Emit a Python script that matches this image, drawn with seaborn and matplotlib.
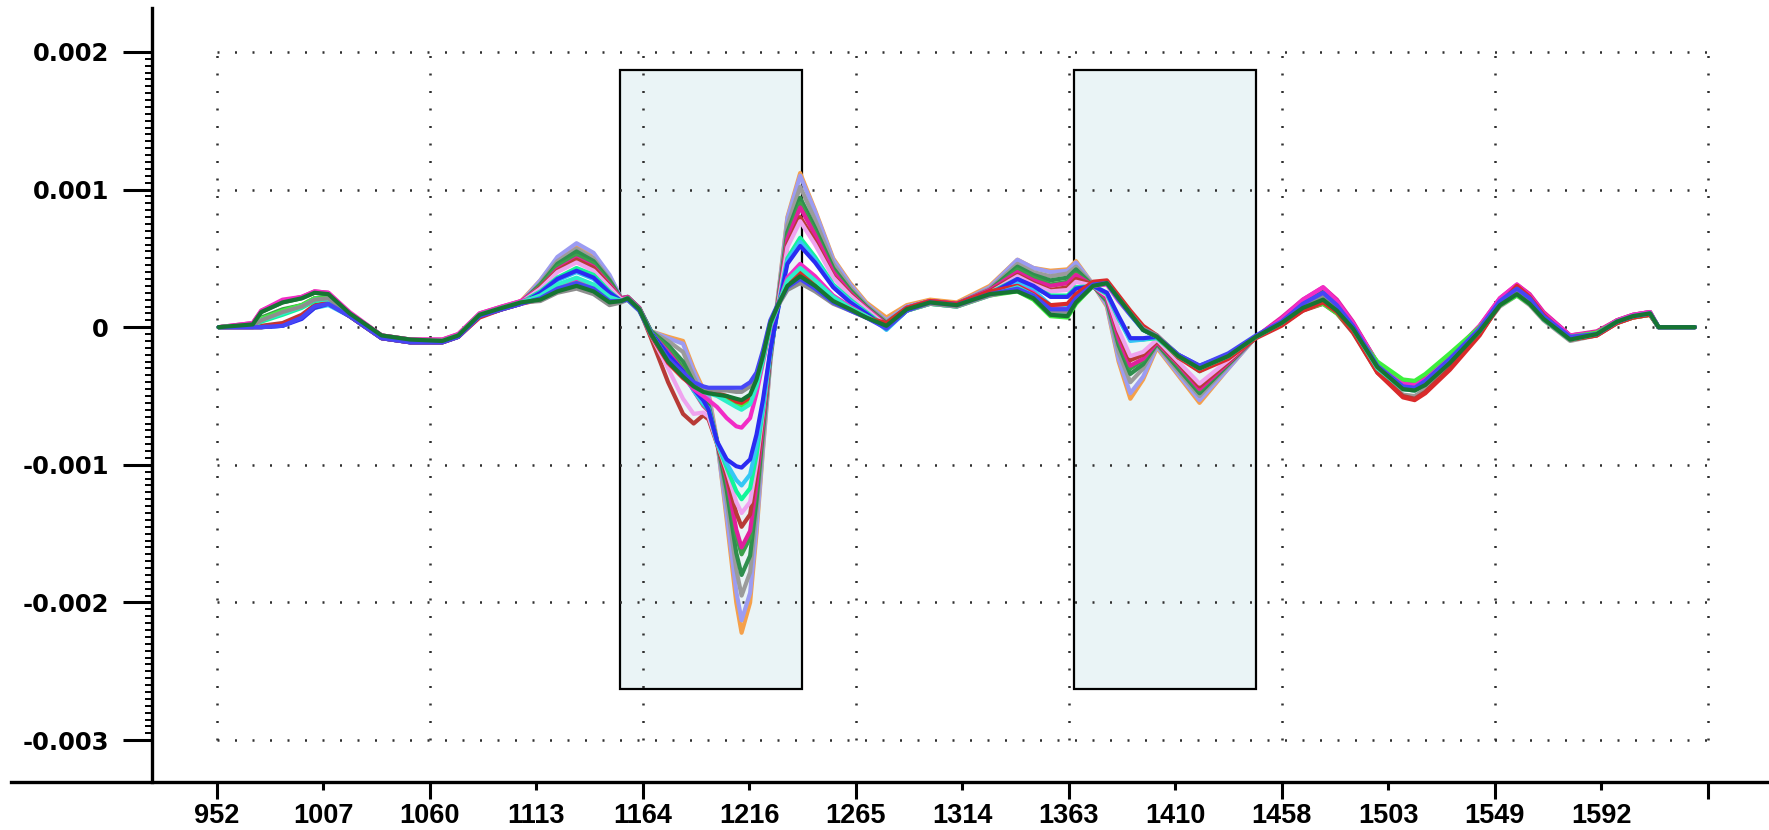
import numpy as np
import pandas as pd
import matplotlib
matplotlib.use("Agg")
import matplotlib.pyplot as plt
from matplotlib.patches import Rectangle
from matplotlib.ticker import FixedLocator, FixedFormatter
import seaborn as sns

# ---------------- data ----------------
# band position on the axis (1 unit = one labelled wavelength step)
BAND = [0.02, 0.34, 0.42, 0.62, 0.80, 0.92, 1.05, 1.25, 1.55, 1.82, 2.12, 2.27, 2.47, 2.68, 2.86,
        3.04, 3.20, 3.38, 3.54, 3.69, 3.80, 3.86, 3.97,
        4.08, 4.24, 4.38, 4.48, 4.57, 4.62, 4.70, 4.79, 4.88, 4.93, 5.01, 5.07, 5.13, 5.20, 5.26,
        5.36, 5.48, 5.62, 5.79, 5.95, 6.10,
        6.29, 6.48, 6.70, 6.95, 7.26,
        7.52, 7.67, 7.83, 7.99, 8.07, 8.23, 8.36,
        8.47, 8.58, 8.70, 8.83, 9.03, 9.23, 9.50, 9.76,
        10.00, 10.20, 10.39, 10.52, 10.67, 10.90, 11.14, 11.25, 11.35, 11.58, 11.86, 12.05, 12.21,
        12.33, 12.46, 12.71, 12.96, 13.15, 13.30, 13.46, 13.54, 13.88]

WAVELENGTH_LABELS = ["952", "1007", "1060", "1113", "1164", "1216", "1265", "1314",
                     "1363", "1410", "1458", "1503", "1549", "1592", ""]
Y_TICKS = [0.002, 0.001, 0.0, -0.001, -0.002, -0.003]
Y_LABELS = ["0.002", "0.001", "0", "-0.001", "-0.002", "-0.003"]

UNIT = 1e-4  # spectra below are written in units of 1e-4

S01 = [0, 0.1, 0.6, 1.2, 1.6, 2.1, 2.1, 0.9, -0.7, -1.0, -1.0, -0.6, 0.9, 1.4, 1.9,
       3.4, 5.0, 6.0, 5.3, 3.7, 2.1, 2.2, 1.4,
       -0.3, -0.7, -1.0, -3.0, -4.5, -4.8, -8.2, -14.0, -20.0, -22.2, -20.0, -15.0, -9.0, -2.5, 1.5,
       8.0, 11.2, 8.5, 5.0, 3.2, 1.8,
       0.7, 1.6, 2.0, 1.8, 3.0,
       4.9, 4.3, 4.1, 4.2, 4.8, 3.1, 1.5,
       -2.5, -5.2, -3.8, -1.5, -3.5, -5.5, -3.0, -0.7,
       0.4, 1.6, 2.3, 1.5, 0.1, -2.8, -4.3, -4.4, -4.0, -2.3, -0.1, 1.8, 2.7, 2.0, 0.8, -0.8, -0.4, 0.5, 0.8, 1.0, 0.0, 0.0]
S02 = [0, 0.1, 0.5, 1.1, 1.5, 2.0, 2.0, 0.8, -0.8, -1.1, -1.1, -0.7, 0.8, 1.4, 1.8,
       3.4, 5.1, 6.1, 5.4, 3.8, 2.1, 2.2, 1.4,
       -0.3, -0.8, -1.2, -3.2, -4.7, -5.0, -8.3, -13.6, -19.2, -21.3, -19.3, -14.6, -8.8, -2.5, 1.4,
       7.9, 11.0, 8.4, 4.9, 3.1, 1.7,
       0.5, 1.5, 1.9, 1.7, 2.9,
       4.9, 4.3, 4.0, 4.1, 4.7, 3.1, 1.6,
       -2.3, -4.8, -3.6, -1.4, -3.4, -5.3, -3.0, -0.7,
       0.5, 1.7, 2.4, 1.6, 0.1, -2.8, -4.4, -4.5, -4.0, -2.4, -0.2, 1.8, 2.8, 2.1, 0.8, -0.7, -0.5, 0.4, 0.8, 1.0, 0.0, 0.0]
S03 = [0, 0.0, 0.0, 0.2, 0.8, 1.5, 1.7, 0.8, -0.8, -1.1, -1.1, -0.7, 0.8, 1.3, 1.7,
       3.2, 4.8, 5.7, 5.0, 3.5, 2.0, 2.2, 1.3,
       -0.3, -1.0, -1.8, -3.6, -5.0, -5.4, -8.3, -12.6, -17.6, -19.5, -17.8, -13.5, -8.3, -2.3, 1.3,
       7.4, 10.2, 7.8, 4.6, 2.9, 1.6,
       0.4, 1.4, 1.9, 1.7, 2.8,
       4.6, 4.0, 3.7, 3.9, 4.4, 3.1, 1.8,
       -1.8, -4.0, -3.0, -1.3, -3.2, -5.0, -2.8, -0.7,
       0.2, 1.3, 1.8, 1.1, -0.3, -3.2, -4.9, -5.0, -4.5, -2.8, -0.4, 1.5, 2.3, 1.6, 0.5, -1.0, -0.6, 0.3, 0.7, 0.9, 0.0, 0.0]
S04 = [0, 0.2, 1.1, 1.8, 2.1, 2.5, 2.4, 1.0, -0.6, -0.9, -1.0, -0.6, 0.9, 1.4, 1.8,
       3.1, 4.6, 5.5, 4.8, 3.4, 2.1, 2.2, 1.4,
       -0.3, -1.3, -2.5, -4.0, -5.3, -5.7, -8.3, -11.8, -16.4, -18.0, -16.6, -12.6, -7.6, -2.1, 1.2,
       6.9, 9.4, 7.2, 4.3, 2.7, 1.5,
       0.3, 1.4, 1.9, 1.7, 2.7,
       4.4, 3.8, 3.4, 3.6, 4.2, 3.0, 1.9,
       -1.3, -3.4, -2.7, -1.2, -3.0, -4.8, -2.7, -0.7,
       0.6, 1.9, 2.7, 1.8, 0.3, -2.6, -4.0, -4.1, -3.6, -2.1, 0.0, 2.0, 3.0, 2.3, 1.0, -0.6, -0.4, 0.5, 0.9, 1.1, 0.0, 0.0]
S05 = [0, 0.1, 0.7, 1.3, 1.6, 2.1, 2.2, 0.9, -0.7, -1.0, -1.0, -0.6, 0.9, 1.4, 1.8,
       3.0, 4.4, 5.2, 4.6, 3.2, 2.0, 2.1, 1.3,
       -0.3, -1.5, -3.0, -4.4, -5.6, -6.0, -8.3, -11.2, -15.1, -16.5, -15.3, -11.8, -7.2, -2.0, 1.1,
       6.6, 9.0, 6.9, 4.1, 2.6, 1.4,
       0.2, 1.3, 1.8, 1.6, 2.6,
       4.2, 3.6, 3.1, 3.3, 3.9, 3.0, 2.0,
       -1.0, -3.0, -2.4, -1.1, -2.8, -4.6, -2.6, -0.7,
       0.4, 1.5, 2.2, 1.3, -0.1, -3.0, -4.5, -4.6, -4.1, -2.5, -0.3, 1.7, 2.5, 1.8, 0.6, -0.9, -0.5, 0.4, 0.8, 1.0, 0.0, 0.0]
S06 = [0, 0.3, 1.2, 1.9, 2.2, 2.6, 2.5, 1.0, -0.6, -0.9, -0.9, -0.5, 1.0, 1.5, 1.9,
       2.9, 4.2, 5.0, 4.4, 3.1, 2.1, 2.2, 1.4,
       -0.4, -1.8, -3.2, -4.6, -5.7, -6.1, -8.4, -11.0, -14.7, -16.0, -14.8, -11.4, -7.0, -1.9, 1.1,
       6.4, 8.7, 6.7, 4.0, 2.5, 1.4,
       0.2, 1.4, 1.9, 1.7, 2.7,
       4.0, 3.4, 3.0, 3.2, 3.8, 3.0, 2.1,
       -0.8, -2.8, -2.3, -1.1, -2.7, -4.5, -2.6, -0.7,
       0.7, 2.0, 2.9, 2.0, 0.4, -2.6, -4.1, -4.2, -3.7, -2.1, 0.1, 2.1, 3.1, 2.4, 1.1, -0.6, -0.3, 0.5, 0.9, 1.1, 0.0, 0.0]
S07 = [0, 0.0, 0.1, 0.3, 0.9, 1.6, 1.8, 0.8, -0.8, -1.1, -1.1, -0.7, 0.8, 1.3, 1.7,
       2.9, 4.1, 4.9, 4.3, 3.0, 2.0, 2.1, 1.3,
       -0.8, -4.0, -6.3, -7.0, -6.4, -6.7, -8.5, -10.8, -13.5, -14.5, -13.6, -10.6, -6.5, -1.8, 1.0,
       6.0, 8.0, 6.2, 3.7, 2.4, 1.3,
       0.1, 1.3, 1.8, 1.6, 2.6,
       3.8, 3.2, 2.7, 2.9, 3.5, 3.1, 2.3,
       -0.4, -2.4, -2.0, -1.0, -2.6, -4.3, -2.5, -0.7,
       0.2, 1.2, 1.7, 1.0, -0.4, -3.3, -5.0, -5.2, -4.7, -3.0, -0.5, 1.6, 2.9, 2.1, 0.8, -0.9, -0.6, 0.3, 0.7, 0.9, 0.0, 0.0]
S08 = [0, 0.1, 0.6, 1.1, 1.5, 2.0, 2.0, 0.9, -0.7, -1.0, -1.0, -0.6, 0.9, 1.4, 1.8,
       2.8, 4.0, 4.7, 4.1, 2.9, 2.0, 2.1, 1.3,
       -0.6, -3.0, -5.2, -6.3, -6.2, -6.5, -8.4, -10.4, -12.7, -13.5, -12.7, -9.9, -6.2, -1.7, 1.0,
       5.8, 7.7, 6.0, 3.6, 2.3, 1.3,
       0.1, 1.3, 1.8, 1.6, 2.5,
       3.7, 3.1, 2.6, 2.7, 3.3, 3.0, 2.3,
       -0.2, -2.1, -1.8, -0.9, -2.5, -4.1, -2.4, -0.7,
       0.4, 1.6, 2.4, 1.5, 0.0, -2.9, -4.5, -4.6, -4.1, -2.4, -0.2, 1.8, 2.7, 2.0, 0.7, -0.8, -0.5, 0.4, 0.8, 1.0, 0.0, 0.0]
S09 = [0, 0.1, 0.4, 0.9, 1.4, 1.9, 2.0, 0.9, -0.7, -1.0, -1.0, -0.6, 0.9, 1.4, 1.8,
       2.6, 3.6, 4.3, 3.8, 2.6, 1.9, 2.1, 1.3,
       -0.4, -2.0, -3.4, -4.6, -5.6, -6.0, -8.4, -10.2, -11.9, -12.5, -11.7, -9.3, -6.0, -1.8, 0.9,
       5.0, 6.5, 5.1, 3.1, 2.0, 1.1,
       0.0, 1.2, 1.8, 1.6, 2.5,
       3.5, 2.9, 2.3, 2.3, 2.9, 3.0, 2.4,
       0.6, -0.9, -0.9, -0.8, -2.1, -3.2, -2.1, -0.7,
       0.3, 1.5, 2.2, 1.3, -0.1, -2.9, -4.3, -4.4, -4.0, -2.4, -0.2, 1.7, 2.5, 1.8, 0.6, -0.8, -0.5, 0.4, 0.8, 1.0, 0.0, 0.0]
S10 = [0, 0.0, 0.0, 0.1, 0.7, 1.4, 1.6, 0.8, -0.8, -1.1, -1.1, -0.7, 0.8, 1.3, 1.7,
       2.5, 3.4, 4.0, 3.5, 2.4, 1.9, 2.0, 1.2,
       -0.4, -2.1, -3.3, -4.6, -5.5, -5.9, -8.4, -9.9, -11.1, -11.5, -10.7, -8.6, -5.7, -1.8, 0.9,
       4.8, 6.2, 4.9, 3.0, 1.9, 1.0,
       -0.2, 1.2, 1.7, 1.5, 2.4,
       3.3, 2.7, 1.6, 1.5, 2.4, 3.0, 2.5,
       0.7, -1.0, -0.9, -0.7, -2.0, -3.1, -2.0, -0.7,
       0.4, 1.6, 2.3, 1.4, 0.0, -2.9, -4.4, -4.5, -4.0, -2.4, -0.2, 1.8, 2.6, 1.9, 0.7, -0.8, -0.5, 0.4, 0.8, 1.0, 0.0, 0.0]
S11 = [0, 0.0, 0.0, 0.1, 0.6, 1.4, 1.7, 0.8, -0.8, -1.1, -1.1, -0.7, 0.8, 1.3, 1.7,
       2.5, 3.5, 4.1, 3.6, 2.5, 1.9, 2.1, 1.3,
       -0.4, -2.0, -3.2, -4.5, -5.3, -6.0, -8.3, -9.6, -10.1, -10.2, -9.6, -7.8, -5.3, -1.7, 0.8,
       4.6, 5.9, 4.7, 2.9, 1.8, 1.0,
       -0.1, 1.2, 1.8, 1.6, 2.4,
       3.5, 3.0, 2.2, 2.2, 2.8, 3.0, 2.5,
       0.8, -0.8, -0.8, -0.7, -2.0, -2.8, -2.0, -0.7,
       0.4, 1.7, 2.4, 1.6, 0.1, -2.8, -4.3, -4.4, -3.9, -2.3, -0.1, 1.9, 2.8, 2.1, 0.8, -0.7, -0.5, 0.4, 0.8, 1.0, 0.0, 0.0]
S12 = [0, 0.3, 1.2, 2.0, 2.2, 2.6, 2.5, 1.1, -0.6, -0.9, -0.9, -0.5, 1.0, 1.5, 1.9,
       2.2, 2.9, 3.4, 3.0, 2.1, 1.9, 2.1, 1.3,
       -0.5, -2.5, -3.6, -4.5, -5.0, -5.3, -5.8, -6.6, -7.2, -7.3, -6.6, -4.8, -2.6, 0.0, 1.3,
       3.6, 4.6, 3.7, 2.3, 1.5, 0.8,
       0.0, 1.4, 1.9, 1.7, 2.5,
       3.0, 2.5, 1.4, 1.3, 2.1, 3.0, 3.1,
       1.9, 0.9, -0.1, -0.6, -2.1, -3.1, -2.1, -0.7,
       0.6, 2.0, 2.9, 1.9, 0.3, -2.6, -4.1, -4.2, -3.8, -2.2, 0.1, 2.1, 3.1, 2.3, 1.0, -0.6, -0.4, 0.5, 0.9, 1.1, 0.0, 0.0]
S13 = [0, 0.1, 0.6, 1.2, 1.6, 2.1, 2.1, 0.9, -0.7, -1.0, -1.0, -0.6, 0.9, 1.4, 1.8,
       2.1, 2.8, 3.2, 2.8, 1.9, 1.9, 2.0, 1.2,
       -0.5, -2.4, -3.5, -4.2, -4.5, -4.6, -4.8, -5.2, -5.6, -5.8, -5.4, -4.2, -2.3, 0.2, 1.4,
       3.3, 4.1, 3.3, 2.1, 1.4, 0.8,
       0.0, 1.2, 1.7, 1.5, 2.3,
       2.6, 2.0, 0.8, 0.7, 1.7, 3.0, 3.2,
       2.1, 1.0, -0.2, -0.7, -2.2, -3.0, -2.0, -0.7,
       0.3, 1.3, 1.7, 1.0, -0.2, -2.5, -3.8, -3.9, -3.4, -1.9, 0.0, 1.6, 2.3, 1.7, 0.6, -0.7, -0.4, 0.4, 0.7, 0.9, 0.0, 0.0]
S14 = [0, 0.0, 0.0, 0.2, 0.8, 1.5, 1.8, 0.8, -0.8, -1.1, -1.1, -0.7, 0.7, 1.3, 1.7,
       2.0, 2.6, 3.0, 2.6, 1.8, 1.9, 2.1, 1.3,
       -0.6, -2.6, -3.7, -4.3, -4.6, -4.7, -4.8, -5.0, -5.4, -5.5, -5.1, -3.9, -2.2, 0.3, 1.4,
       3.2, 4.0, 3.2, 2.0, 1.3, 0.7,
       0.3, 1.4, 1.9, 1.7, 2.6,
       3.0, 2.4, 1.6, 1.7, 2.4, 3.3, 3.4,
       2.3, 1.2, 0.1, -0.6, -2.2, -3.2, -2.3, -0.8,
       0.1, 1.2, 1.8, 1.1, -0.3, -3.3, -5.1, -5.3, -4.8, -3.1, -0.6, 1.7, 3.0, 2.2, 0.9, -0.9, -0.6, 0.3, 0.7, 0.9, 0.0, 0.0]
S15 = [0, 0.1, 0.5, 1.0, 1.5, 2.0, 2.0, 0.9, -0.7, -1.0, -1.0, -0.6, 0.9, 1.4, 1.8,
       2.3, 3.1, 3.6, 3.1, 2.2, 1.9, 2.1, 1.3,
       -0.5, -2.4, -3.5, -4.3, -4.7, -4.8, -5.0, -5.4, -5.8, -6.0, -5.6, -4.3, -2.4, 0.1, 1.3,
       3.4, 4.3, 3.4, 2.2, 1.4, 0.8,
       -0.1, 1.2, 1.7, 1.5, 2.3,
       2.9, 2.3, 1.0, 0.9, 1.9, 3.0, 3.2,
       2.0, 0.9, -0.2, -0.7, -2.1, -3.0, -2.1, -0.7,
       0.3, 1.5, 2.2, 1.3, -0.1, -3.0, -4.5, -4.6, -4.1, -2.5, -0.3, 1.7, 2.5, 1.8, 0.6, -0.9, -0.5, 0.4, 0.8, 1.0, 0.0, 0.0]
S16 = [0, 0.1, 0.5, 1.1, 1.5, 2.0, 2.1, 0.9, -0.7, -1.0, -1.0, -0.6, 0.9, 1.4, 1.8,
       1.9, 2.5, 2.8, 2.4, 1.6, 1.8, 2.0, 1.2,
       -0.5, -2.4, -3.4, -4.1, -4.4, -4.5, -4.6, -4.6, -4.7, -4.7, -4.3, -3.5, -1.9, 0.4, 1.4,
       2.7, 3.2, 2.6, 1.7, 1.2, 0.7,
       0.0, 1.2, 1.7, 1.5, 2.3,
       2.7, 2.2, 1.2, 1.1, 1.9, 3.0, 3.2,
       2.1, 1.0, -0.1, -0.6, -2.0, -3.0, -2.0, -0.7,
       0.4, 1.6, 2.3, 1.4, 0.0, -2.9, -4.4, -4.5, -4.0, -2.4, -0.2, 1.8, 2.6, 1.9, 0.7, -0.8, -0.5, 0.4, 0.8, 1.0, 0.0, 0.0]
S17 = [0, 0.0, 0.0, 0.1, 0.7, 1.5, 1.7, 0.8, -0.8, -1.1, -1.1, -0.7, 0.8, 1.3, 1.7,
       2.1, 2.8, 3.2, 2.8, 1.9, 1.9, 2.0, 1.2,
       -0.5, -2.3, -3.3, -4.0, -4.3, -4.4, -4.4, -4.4, -4.4, -4.4, -4.0, -3.3, -1.7, 0.5, 1.5,
       2.9, 3.5, 2.8, 1.8, 1.2, 0.7,
       -0.1, 1.2, 1.8, 1.6, 2.4,
       2.8, 2.3, 1.3, 1.3, 2.1, 3.1, 3.2,
       2.0, 0.9, -0.2, -0.7, -2.0, -2.8, -1.9, -0.6,
       0.4, 1.7, 2.5, 1.6, 0.1, -2.8, -4.3, -4.4, -3.9, -2.3, -0.1, 1.9, 2.8, 2.1, 0.8, -0.7, -0.5, 0.4, 0.8, 1.0, 0.0, 0.0]
S18 = [0, 0.2, 1.1, 1.8, 2.1, 2.5, 2.4, 1.0, -0.6, -0.9, -1.0, -0.6, 0.9, 1.4, 1.8,
       2.0, 2.6, 3.0, 2.6, 1.8, 1.9, 2.1, 1.3,
       -0.5, -2.5, -3.6, -4.3, -4.7, -4.8, -4.9, -5.0, -5.2, -5.3, -4.9, -3.8, -2.1, 0.3, 1.4,
       3.0, 3.7, 3.0, 1.9, 1.3, 0.7,
       0.1, 1.3, 1.8, 1.6, 2.4,
       2.6, 2.1, 0.9, 0.8, 1.8, 3.0, 3.2,
       2.1, 1.0, -0.2, -0.7, -2.1, -3.0, -2.1, -0.7,
       0.3, 1.4, 2.0, 1.2, -0.1, -2.9, -4.5, -4.6, -4.2, -2.6, -0.3, 1.6, 2.4, 1.7, 0.6, -0.9, -0.5, 0.4, 0.8, 1.0, 0.0, 0.0]

SERIES = [S01, S02, S03, S04, S05, S06, S07, S08, S09, S10, S11, S12, S13, S14, S15, S16, S17, S18]
SERIES_NAMES = ["s%02d" % (i + 1) for i in range(len(SERIES))]
SERIES_COLORS = ["#F5A04A", "#9C9CF2", "#9B9B9B", "#2F8F4E", "#3BA04B", "#E0209C",
                 "#B83A36", "#EFA3EF", "#12F59A", "#35C7F5", "#2B2BF2", "#F22CC6",
                 "#3EF03E", "#DA2A2A", "#2EF0C8", "#8E8E8E", "#4646F6", "#167532"]

# highlighted band windows (axis units) and their vertical extent
RECT_X0 = [3.79, 8.05]
RECT_X1 = [5.50, 9.76]
RECT_Y0 = -0.00263
RECT_Y1 = 0.00187

# ---------------- figure ----------------
plt.rcParams["axes.unicode_minus"] = False
W, H = 1769, 830
fig = plt.figure(figsize=(W / 100, H / 100), dpi=100)
ax = fig.add_axes([11 / W, 1 - 782 / H, (W - 11) / W, (782 - 8.5) / H])
ax.set_facecolor("white")

frames = []
for name, vals in zip(SERIES_NAMES, SERIES):
    frames.append(pd.DataFrame({"band": BAND, "value": np.array(vals) * UNIT, "series": name}))
df = pd.concat(frames, ignore_index=True)

# shaded windows
for x0, x1 in zip(RECT_X0, RECT_X1):
    ax.add_patch(Rectangle((x0, RECT_Y0), x1 - x0, RECT_Y1 - RECT_Y0,
                           facecolor="#EAF4F6", edgecolor="black", linewidth=1.6, zorder=1))

# dotted grid limited to the labelled range
major_x = list(range(0, len(WAVELENGTH_LABELS), 2))
minor_x = list(range(1, len(WAVELENGTH_LABELS), 2))
ax.hlines(Y_TICKS, 0, len(WAVELENGTH_LABELS) - 1, colors="#303030",
          linestyles=(0, (0.8, 6.2)), linewidth=1.8, zorder=1.5)
ax.vlines(major_x, min(Y_TICKS), max(Y_TICKS), colors="#303030",
          linestyles=(0, (0.8, 6.2)), linewidth=1.8, zorder=1.5)

sns.lineplot(data=df, x="band", y="value", hue="series", hue_order=SERIES_NAMES,
             palette=dict(zip(SERIES_NAMES, SERIES_COLORS)), estimator=None,
             sort=False, legend=False, linewidth=3.0, ax=ax, zorder=3,
             solid_joinstyle="round", solid_capstyle="round")

ax.set_xlim(-1.930, 14.577)
ax.set_ylim(-0.003304, 0.002315)
ax.set_xlabel("")
ax.set_ylabel("")

# spines
for s in ["top", "right"]:
    ax.spines[s].set_visible(False)
ax.spines["left"].set_position(("data", -0.607))
ax.spines["left"].set_linewidth(2.4)
ax.spines["bottom"].set_linewidth(2.4)

# x ticks
ax.xaxis.set_major_locator(FixedLocator(major_x))
ax.xaxis.set_major_formatter(FixedFormatter([WAVELENGTH_LABELS[i] for i in major_x]))
ax.xaxis.set_minor_locator(FixedLocator(minor_x))
ax.xaxis.set_minor_formatter(FixedFormatter([WAVELENGTH_LABELS[i] for i in minor_x]))
ax.tick_params(axis="x", which="major", direction="out", length=12, width=2.2, pad=3)
ax.tick_params(axis="x", which="minor", direction="out", length=6, width=2.2, pad=9)
for lab in ax.get_xticklabels(which="both"):
    lab.set_fontfamily("Liberation Sans")
    lab.set_fontweight("bold")
    lab.set_fontsize(19.5)

# y ticks
ax.yaxis.set_major_locator(FixedLocator(Y_TICKS))
ax.yaxis.set_major_formatter(FixedFormatter(Y_LABELS))
ax.yaxis.set_minor_locator(FixedLocator(list(np.arange(-0.003, 0.00201, 0.00005))))
ax.tick_params(axis="y", which="major", direction="out", length=21, width=2.2, pad=10)
ax.tick_params(axis="y", which="minor", direction="out", length=5, width=1.4)
for lab in ax.get_yticklabels():
    lab.set_fontfamily("DejaVu Sans")
    lab.set_fontweight("bold")
    lab.set_fontsize(17.5)

fig.savefig("out.png", dpi=100, facecolor="white")
